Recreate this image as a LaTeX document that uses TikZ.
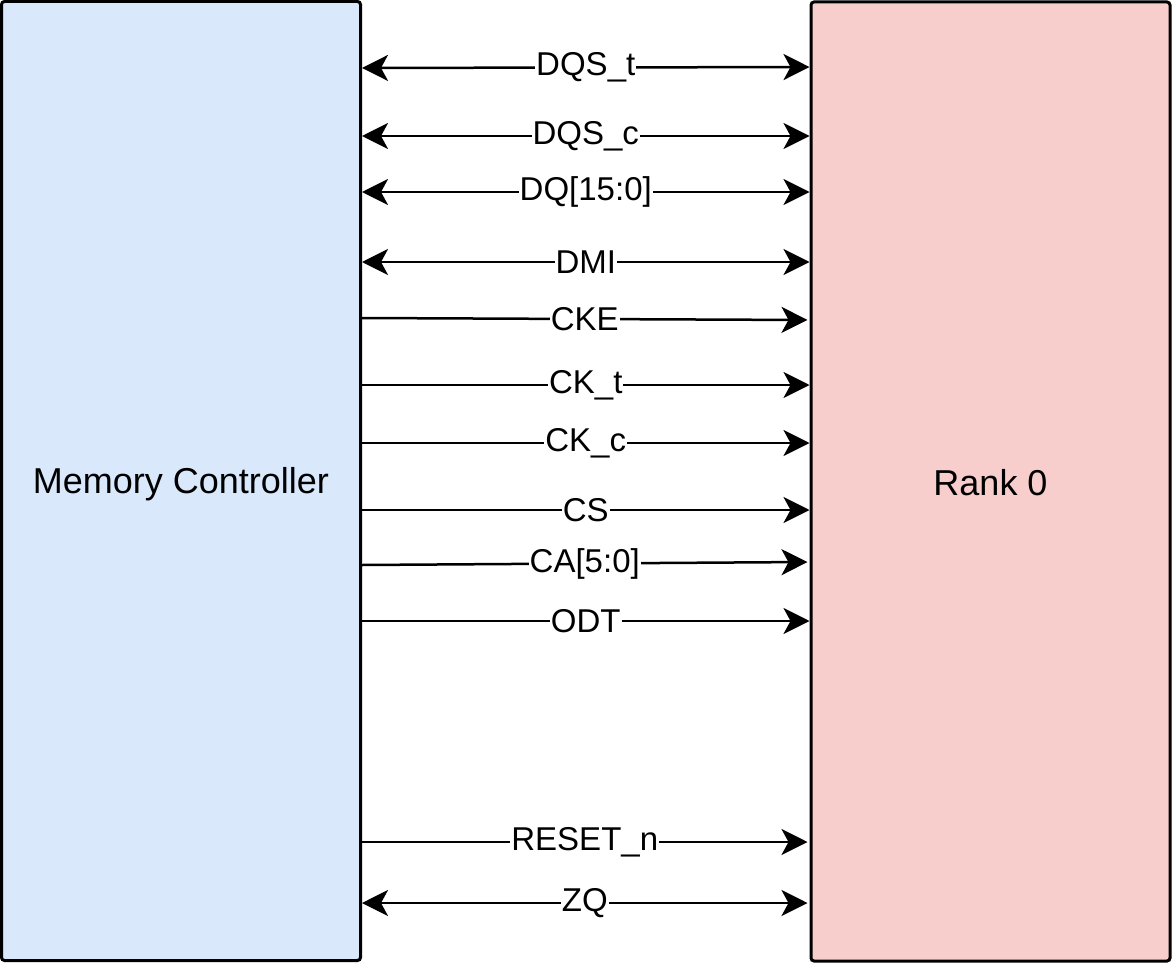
\documentclass[tikz,border=0pt]{standalone}
\usepackage{fontspec}
\setmainfont{Liberation Sans}
\usetikzlibrary{arrows.meta}
\definecolor{mcfill}{HTML}{DAE8FC}
\definecolor{rkfill}{HTML}{F8CECC}
\tikzset{
  blockbox/.style={draw=black, line width=3pt, rounded corners=3pt, inner sep=0pt,
    minimum width=359pt, minimum height=959pt, font=\fontsize{36}{40}\selectfont},
  sig/.style={line width=2.5pt, draw=black},
  tipb/.style={-{Stealth[length=26pt,width=26pt,inset=7pt]}},
  tipbb/.style={{Stealth[length=26pt,width=26pt,inset=7pt]}-{Stealth[length=26pt,width=26pt,inset=7pt]}},
  lbl/.style={fill=white, inner xsep=1pt, inner ysep=0pt, font=\fontsize{33}{36}\selectfont}
}
\begin{document}
\begin{tikzpicture}[x=1pt,y=-1pt]
\useasboundingbox (0,0) rectangle (1173,966);
\node[blockbox, fill=mcfill, label={[font=\fontsize{36}{40}\selectfont, yshift=-3pt]center:Memory Controller}] (mc) at (181,481) {};
\node[blockbox, fill=rkfill, label={[font=\fontsize{36}{40}\selectfont, yshift=-1pt]center:Rank 0}] (rk) at (990.5,481.5) {};
\draw[sig,tipbb] (mc.east |- 0,68) -- (rk.west |- 0,67) node[midway,lbl]{DQS\_t};
\draw[sig,tipbb] (mc.east |- 0,136) -- (rk.west |- 0,136) node[midway,lbl]{DQS\_c};
\draw[sig,tipbb] (mc.east |- 0,192) -- (rk.west |- 0,192) node[midway,lbl]{DQ[15:0]};
\draw[sig,tipbb] (mc.east |- 0,262) -- (rk.west |- 0,262) node[midway,lbl]{DMI};
\draw[sig,tipb] (mc.east |- 0,318) -- ([xshift=-2pt]rk.west |- 0,320) node[midway,lbl]{CKE};
\draw[sig,tipb] (mc.east |- 0,385) -- (rk.west |- 0,385) node[midway,lbl]{CK\_t};
\draw[sig,tipb] (mc.east |- 0,443) -- (rk.west |- 0,443) node[midway,lbl]{CK\_c};
\draw[sig,tipb] (mc.east |- 0,510) -- (rk.west |- 0,510) node[midway,lbl]{CS};
\draw[sig,tipb] (mc.east |- 0,565) -- ([xshift=-2pt]rk.west |- 0,562) node[midway,lbl]{CA[5:0]};
\draw[sig,tipb] (mc.east |- 0,621) -- (rk.west |- 0,621) node[midway,lbl]{ODT};
\draw[sig,tipb] (mc.east |- 0,842) -- ([xshift=-2pt]rk.west |- 0,842) node[midway,lbl]{RESET\_n};
\draw[sig,tipbb] (mc.east |- 0,903) -- ([xshift=-2pt]rk.west |- 0,903) node[midway,lbl]{ZQ};
\end{tikzpicture}
\end{document}
